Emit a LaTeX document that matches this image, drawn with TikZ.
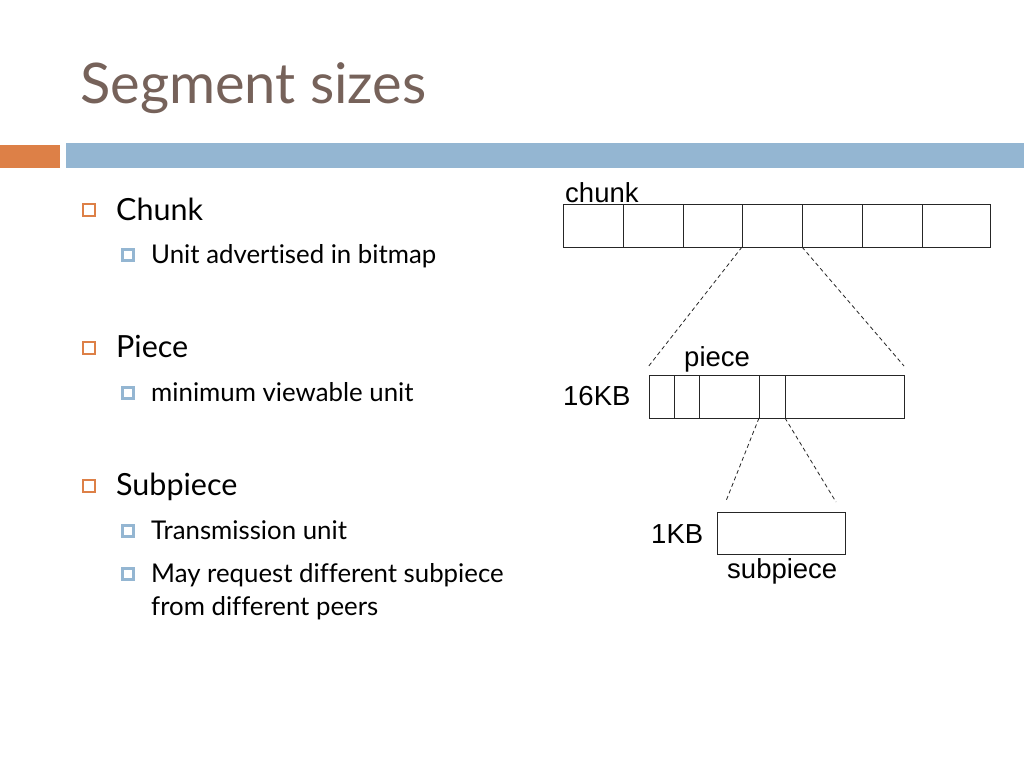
\documentclass[tikz,border=0pt]{standalone}
\usepackage{fontspec}
\setmainfont{Lato}[Ligatures=NoCommon]
\newfontfamily\arialfont{Liberation Sans}
\definecolor{titlec}{RGB}{118,98,90}
\definecolor{accorange}{RGB}{221,128,71}
\definecolor{accblue}{RGB}{148,182,210}
\begin{document}
\begin{tikzpicture}[x=1pt,y=-1pt,
  lvlone/.style={anchor=base west,inner sep=0pt,font=\fontsize{30.5}{36}\selectfont},
  lvltwo/.style={anchor=base west,inner sep=0pt,font=\fontsize{25.8}{30}\selectfont},
  bulone/.style={draw=accorange,line width=1.4pt,minimum size=12pt,inner sep=0pt},
  bultwo/.style={draw=accblue,fill=white,line width=3pt,minimum size=10.5pt,inner sep=0pt},
  cell/.style={draw=black!85,line width=0.9pt,anchor=north west,inner sep=0pt,outer sep=0pt},
  dlab/.style={anchor=base west,inner sep=0pt,font=\arialfont\fontsize{27.5}{32}\selectfont},
  zoomline/.style={draw=black!85,dashed,dash pattern=on 4pt off 3pt,line width=0.8pt}]
\useasboundingbox[fill=white] (0,0) rectangle (1024,768);
% header bars
\fill[accorange] (0,145) rectangle (60,168);
\fill[accblue] (66,143) rectangle (1024,168);
% title
\node[anchor=base west,inner sep=0pt,text=titlec,font=\fontsize{56}{62}\selectfont] (title) at (80,103) {Segment sizes};
% bullets
\node[bulone] (b1) at (89,210) {};
\node[lvlone] (t1) at (116,220) {Chunk};
\node[bultwo] (b11) at (128,255) {};
\node[lvltwo] (t11) at (151,263) {Unit advertised in bitmap};
\node[bulone] (b2) at (89,348) {};
\node[lvlone] (t2) at (116,357) {Piece};
\node[bultwo] (b21) at (128,393) {};
\node[lvltwo] (t21) at (151,401) {minimum viewable unit};
\node[bulone] (b3) at (89,486) {};
\node[lvlone] (t3) at (116,495) {Subpiece};
\node[bultwo] (b31) at (128,531) {};
\node[lvltwo] (t31) at (151,539) {Transmission unit};
\node[bultwo] (b32) at (128,574) {};
\node[lvltwo] (t32) at (151,582) {May request different subpiece};
\node[lvltwo] (t33) at (151,615) {from different peers};
% chunk bar
\foreach \i/\a/\b in {1/563/623,2/623/683,3/683/742,4/742/802,5/802/862,6/862/922,7/922/990}{
  \node[cell,minimum width={\b-\a},minimum height=43] (c\i) at (\a,204) {};
}
\node[dlab] (lchunk) at (565,202) {chunk};
% piece bar
\foreach \i/\a/\b in {1/649/674,2/674/699,3/699/759,4/759/785,5/785/904}{
  \node[cell,minimum width={\b-\a},minimum height=43] (p\i) at (\a,375) {};
}
\node[dlab] (lpiece) at (684,366) {piece};
\node[dlab] (l16) at (563,405) {16KB};
% subpiece
\node[cell,minimum width=128,minimum height=42] (s1) at (717,512) {};
\node[dlab] (l1) at (651,543) {1KB};
\node[dlab] (lsub) at (727,578) {subpiece};
% zoom lines
\coordinate (zl1) at (648,367);
\coordinate (zr1) at (904,366);
\coordinate (zl2) at (726,501);
\coordinate (zr2) at (836,502);
\draw[zoomline] (c4.south west) -- (zl1);
\draw[zoomline] (c4.south east) -- (zr1);
\draw[zoomline] (p4.south west) -- (zl2);
\draw[zoomline] (p4.south east) -- (zr2);
\end{tikzpicture}
\end{document}
